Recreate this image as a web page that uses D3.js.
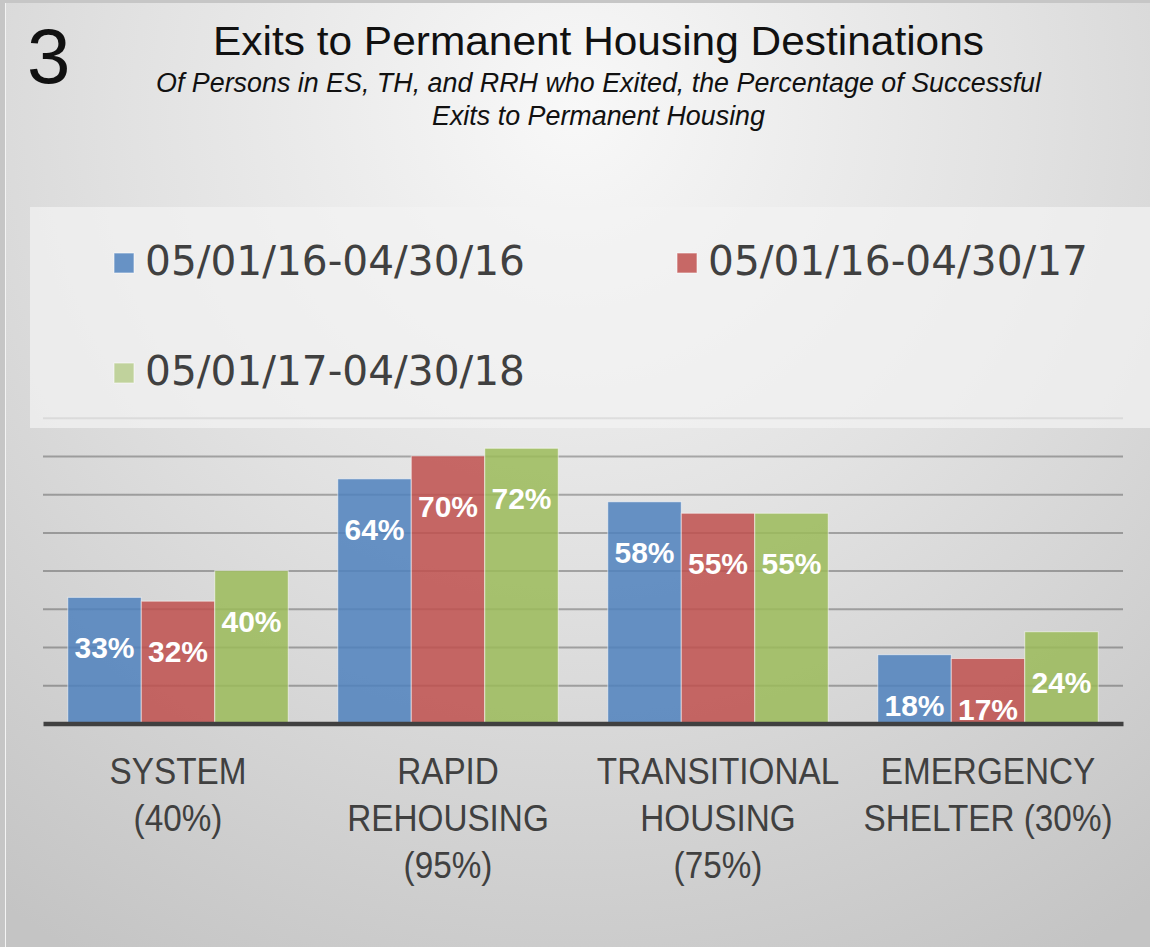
<!DOCTYPE html>
<html>
<head>
<meta charset="utf-8">
<script src="https://cdn.jsdelivr.net/npm/d3@7"></script>
<style>
  html, body { margin: 0; padding: 0; background: #c6c6c6; }
  svg { display: block; }
</style>
</head>
<body>
<div id="chart"></div>
<script>
// data
var categories = ["SYSTEM (40%)", "RAPID REHOUSING (95%)", "TRANSITIONAL HOUSING (75%)", "EMERGENCY SHELTER (30%)"];
var catLines = [
  ["SYSTEM", "(40%)"],
  ["RAPID", "REHOUSING", "(95%)"],
  ["TRANSITIONAL", "HOUSING", "(75%)"],
  ["EMERGENCY", "SHELTER (30%)"]
];
var seriesNames = ["05/01/16-04/30/16", "05/01/16-04/30/17", "05/01/17-04/30/18"];
var period1 = [33, 64, 58, 18];
var period2 = [32, 70, 55, 17];
var period3 = [40, 72, 55, 24];
var yTicks = [10, 20, 30, 40, 50, 60, 70, 80];

var colors = ["#4F81BD", "#C0504D", "#9BBB59"];
var seriesValues = [period1, period2, period3];

var width = 1150, height = 947;
var plot = { left: 43, right: 1123, top: 417.7, bottom: 723.5 };

var svg = d3.select("#chart").append("svg")
    .attr("width", width)
    .attr("height", height);

var defs = svg.append("defs");
var grad = defs.append("radialGradient")
    .attr("id", "bg")
    .attr("gradientUnits", "userSpaceOnUse")
    .attr("cx", 575).attr("cy", 110).attr("r", 980);
grad.append("stop").attr("offset", "0").attr("stop-color", "#f8f8f8");
grad.append("stop").attr("offset", "0.45").attr("stop-color", "#e2e2e2");
grad.append("stop").attr("offset", "1").attr("stop-color", "#c4c4c4");

// slide background
svg.append("rect").attr("width", width).attr("height", height).attr("fill", "#c6c6c6");
svg.append("rect")
    .attr("x", 5).attr("y", 3)
    .attr("width", width - 5).attr("height", height - 3)
    .attr("fill", "url(#bg)");
svg.append("line")
    .attr("x1", 5.5).attr("x2", 5.5).attr("y1", 3).attr("y2", height)
    .attr("stroke", "#f4f4f4").attr("stroke-width", 1);

// scales
var x0 = d3.scaleBand()
    .domain(categories)
    .range([plot.left, plot.right])
    .paddingInner(0).paddingOuter(0);

var x1 = d3.scaleBand()
    .domain(d3.range(seriesNames.length))
    .range([0, x0.bandwidth()])
    .paddingInner(0)
    .paddingOuter(0.337);

var y = d3.scaleLinear()
    .domain([0, 80])
    .range([plot.bottom, plot.top]);

// gridlines
var grid = svg.append("g")
    .attr("transform", "translate(" + plot.left + ",0)")
    .call(d3.axisLeft(y).tickValues(yTicks).tickSize(-(plot.right - plot.left)).tickFormat(""));
grid.select(".domain").remove();
grid.selectAll(".tick line")
    .attr("stroke", "rgba(0,0,0,0.28)")
    .attr("stroke-width", 2);

// bars
var groups = svg.append("g").selectAll("g")
    .data(categories)
    .enter().append("g")
    .attr("transform", function(d) { return "translate(" + x0(d) + ",0)"; });

groups.selectAll("rect")
    .data(function(d, i) {
        return seriesValues.map(function(s, k) { return { k: k, v: s[i] }; });
    })
    .enter().append("rect")
    .attr("x", function(d) { return x1(d.k); })
    .attr("width", x1.bandwidth())
    .attr("y", function(d) { return y(d.v); })
    .attr("height", function(d) { return y(0) - y(d.v); })
    .attr("fill", function(d) { return colors[d.k]; })
    .attr("fill-opacity", 0.85)
    .attr("stroke", "rgba(255,255,255,0.55)")
    .attr("stroke-width", 1);

// value labels
groups.selectAll("text.val")
    .data(function(d, i) {
        return seriesValues.map(function(s, k) { return { k: k, v: s[i] }; });
    })
    .enter().append("text")
    .attr("class", "val")
    .attr("x", function(d) { return x1(d.k) + x1.bandwidth() / 2; })
    .attr("y", function(d) { return y(d.v) + 61; })
    .attr("text-anchor", "middle")
    .attr("fill", "#ffffff")
    .style("font-family", "'Liberation Sans', Arial, sans-serif")
    .style("font-weight", "bold")
    .style("font-size", "30px")
    .text(function(d) { return d.v + "%"; });

// x axis (thick baseline + multi-line labels)
var xAxis = svg.append("g")
    .attr("transform", "translate(0," + plot.bottom + ")")
    .call(d3.axisBottom(x0).tickSize(0).tickFormat(""));
xAxis.select(".domain")
    .attr("stroke", "#404040")
    .attr("stroke-width", 4.5);
xAxis.selectAll(".tick text").remove();
xAxis.selectAll(".tick").each(function(d, i) {
    var t = d3.select(this).append("text")
        .attr("transform", "scale(0.9,1)")
        .attr("text-anchor", "middle")
        .attr("fill", "#404040")
        .style("font-family", "'Liberation Sans', Arial, sans-serif")
        .style("font-size", "37px");
    catLines[i].forEach(function(line, j) {
        t.append("tspan").attr("x", 0).attr("y", 61 + j * 46.7).text(line);
    });
});

// legend panel (semi-transparent, sits over the top gridline)
svg.append("rect")
    .attr("x", 30).attr("y", 207)
    .attr("width", width - 30).attr("height", 221)
    .attr("fill", "#f3f3f3")
    .attr("fill-opacity", 0.72);

var legendPos = [[114, 253], [677, 253], [114, 363]];
var legend = svg.append("g").selectAll("g")
    .data(seriesNames)
    .enter().append("g")
    .attr("transform", function(d, i) { return "translate(" + legendPos[i][0] + "," + legendPos[i][1] + ")"; });
legend.append("rect")
    .attr("width", 20).attr("height", 20)
    .attr("fill", function(d, i) { return colors[i]; })
    .attr("fill-opacity", function(d, i) { return i === 2 ? 0.55 : 0.85; })
    .attr("stroke", "rgba(255,255,255,0.6)");
legend.append("text")
    .attr("x", 31).attr("y", 22)
    .attr("fill", "#404040")
    .attr("textLength", 380)
    .attr("lengthAdjust", "spacingAndGlyphs")
    .style("font-family", "'DejaVu Sans', sans-serif")
    .style("font-size", "40px")
    .text(function(d) { return d; });

// titles
svg.append("text")
    .attr("x", 27).attr("y", 83)
    .attr("fill", "#111")
    .style("font-family", "'Liberation Sans', Arial, sans-serif")
    .style("font-size", "78px")
    .text("3");

svg.append("text")
    .attr("x", 213).attr("y", 55)
    .attr("fill", "#111")
    .attr("textLength", 771)
    .attr("lengthAdjust", "spacingAndGlyphs")
    .style("font-family", "'Liberation Sans', Arial, sans-serif")
    .style("font-size", "41px")
    .text("Exits to Permanent Housing Destinations");

svg.append("text")
    .attr("x", 156).attr("y", 92)
    .attr("fill", "#111")
    .attr("textLength", 885)
    .attr("lengthAdjust", "spacingAndGlyphs")
    .style("font-family", "'Liberation Sans', Arial, sans-serif")
    .style("font-style", "italic")
    .style("font-size", "27px")
    .text("Of Persons in ES, TH, and RRH who Exited, the Percentage of Successful");

svg.append("text")
    .attr("x", 432).attr("y", 125)
    .attr("fill", "#111")
    .attr("textLength", 333)
    .attr("lengthAdjust", "spacingAndGlyphs")
    .style("font-family", "'Liberation Sans', Arial, sans-serif")
    .style("font-style", "italic")
    .style("font-size", "27px")
    .text("Exits to Permanent Housing");
</script>
</body>
</html>
